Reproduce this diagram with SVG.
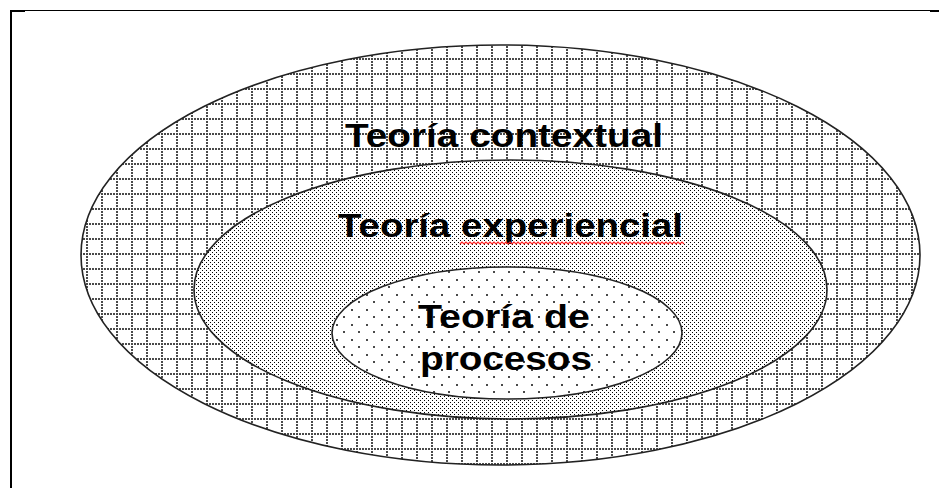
<svg xmlns="http://www.w3.org/2000/svg" width="939" height="488" viewBox="0 0 939 488">
<style>
.ell{stroke:#222;stroke-width:1.6}
.lbl{font-family:"Liberation Sans",Arial,sans-serif;font-weight:bold;font-size:34px;fill:#000}
.d{fill:#000;shape-rendering:crispEdges}
.g{fill:#4a4a4a;shape-rendering:crispEdges}
</style>
<defs>
<pattern id="grid" patternUnits="userSpaceOnUse" width="15" height="15" x="11" y="13">
<rect x="0" y="0" width="15" height="15" fill="#fff"/>
<rect class="g" x="0" y="0" width="2" height="2"/>
<rect class="g" x="3" y="0" width="2" height="2"/>
<rect class="g" x="6" y="0" width="2" height="2"/>
<rect class="g" x="9" y="0" width="2" height="2"/>
<rect class="g" x="12" y="0" width="2" height="2"/>
<rect class="g" x="0" y="3" width="2" height="2"/>
<rect class="g" x="0" y="6" width="2" height="2"/>
<rect class="g" x="0" y="9" width="2" height="2"/>
<rect class="g" x="0" y="12" width="2" height="2"/>
</pattern>
<pattern id="dense" patternUnits="userSpaceOnUse" width="4" height="4">
<rect x="0" y="0" width="4" height="4" fill="#fff"/>
<rect class="d" x="0" y="0" width="1" height="1"/>
<rect class="d" x="2" y="2" width="1" height="1"/>
</pattern>
<pattern id="sparse" patternUnits="userSpaceOnUse" width="15" height="15" x="6" y="9">
<rect x="0" y="0" width="15" height="15" fill="#fff"/>
<rect class="g" x="0" y="0" width="2" height="2"/>
<rect class="g" x="7" y="7" width="2" height="2"/>
</pattern>
</defs>
<rect x="0" y="0" width="939" height="488" fill="#fff"/>
<g id="frame" fill="#000">
<rect x="10" y="10" width="929" height="1"/>
<rect x="10" y="10" width="2" height="478"/>
<rect x="10" y="10" width="15" height="2"/>
<rect x="930" y="10" width="9" height="2"/>
</g>
<g id="contextual">
<ellipse class="ell" cx="500.5" cy="255" rx="419.5" ry="210" fill="url(#grid)"/>
<text class="lbl" x="345" y="147" textLength="318" lengthAdjust="spacingAndGlyphs">Teoría contextual</text>
</g>
<g id="experiencial">
<ellipse class="ell" cx="510.5" cy="289.5" rx="316.5" ry="129.5" fill="url(#dense)"/>
<text class="lbl" x="338" y="237" textLength="345" lengthAdjust="spacingAndGlyphs">Teoría experiencial</text>
<path d="M460 244 l2 -2 l2 2 l2 -2 l2 2 l2 -2 l2 2 l2 -2 l2 2 l2 -2 l2 2 l2 -2 l2 2 l2 -2 l2 2 l2 -2 l2 2
l2 -2 l2 2 l2 -2 l2 2 l2 -2 l2 2 l2 -2 l2 2 l2 -2 l2 2 l2 -2 l2 2 l2 -2 l2 2 l2 -2 l2 2
l2 -2 l2 2 l2 -2 l2 2 l2 -2 l2 2 l2 -2 l2 2 l2 -2 l2 2 l2 -2 l2 2 l2 -2 l2 2 l2 -2 l2 2
l2 -2 l2 2 l2 -2 l2 2 l2 -2 l2 2 l2 -2 l2 2 l2 -2 l2 2 l2 -2 l2 2 l2 -2 l2 2 l2 -2 l2 2
l2 -2 l2 2 l2 -2 l2 2 l2 -2 l2 2 l2 -2 l2 2 l2 -2 l2 2 l2 -2 l2 2 l2 -2 l2 2 l2 -2 l2 2
l2 -2 l2 2 l2 -2 l2 2 l2 -2 l2 2 l2 -2 l2 2 l2 -2 l2 2 l2 -2 l2 2 l2 -2 l2 2 l2 -2 l2 2
l2 -2 l2 2 l2 -2 l2 2 l2 -2 l2 2 l2 -2 l2 2 l2 -2 l2 2 l2 -2 l2 2 l2 -2 l2 2 l2 -2 l2 2" fill="none" stroke="#ff2020" stroke-width="1.2"/>
</g>
<g id="procesos">
<ellipse class="ell" cx="507" cy="333" rx="175" ry="66" fill="url(#sparse)"/>
<text class="lbl" x="418" y="328" textLength="172" lengthAdjust="spacingAndGlyphs">Teoría de</text>
<text class="lbl" x="420" y="370" textLength="172" lengthAdjust="spacingAndGlyphs">procesos</text>
</g>
<g id="connectors"/>
</svg>
